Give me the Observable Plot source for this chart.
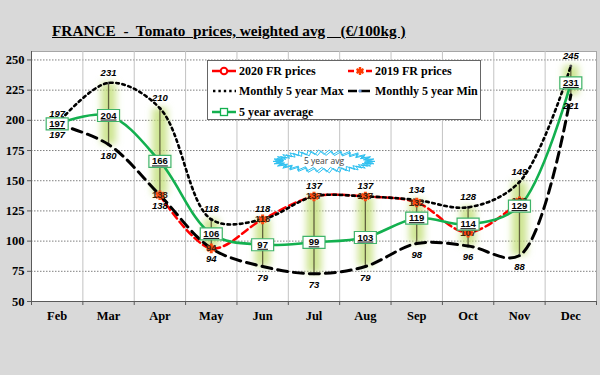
<!DOCTYPE html>
<html><head><meta charset="utf-8">
<script src="https://cdn.jsdelivr.net/npm/d3@7"></script>
<script src="https://cdn.jsdelivr.net/npm/@observablehq/plot@0.6"></script>
<style>
body{margin:0;background:#d9d9d9;}
#wrap{position:relative;width:600px;height:375px;overflow:hidden;background:#d9d9d9;}
#title{position:absolute;left:52px;top:22px;font:bold 15.3px "Liberation Serif",serif;text-decoration:underline;white-space:pre;color:#000;}
#legend{position:absolute;left:207px;top:60px;width:274px;height:60px;background:#fff;border:1px solid #666;box-sizing:border-box;font:bold 12px "Liberation Serif",serif;color:#000;}
.item{position:absolute;height:16px;display:flex;align-items:center;white-space:nowrap;}
.item svg{margin-right:2px;}
</style></head><body>
<div id="wrap"><div id="chart"></div><div id="title">FRANCE  -  Tomato  prices, weighted avg    (€/100kg )</div><div id="legend"></div></div>
<script>
const months = ["Feb","Mar","Apr","May","Jun","Jul","Aug","Sep","Oct","Nov","Dec"];
const max5 = [197,231,210,118,118,137,137,134,128,149,245];
const min5 = [197,180,138,94,79,73,79,98,96,88,221];
const avg5 = [197,204,166,106,97,99,103,119,114,129,231];
const fr2019 = [null,null,138,94,118,137,137,132,107,133,null];
const fr2020 = [null,null,null,null,null,null,null,null,null,null,null];
const yTicks = [50,75,100,125,150,175,200,225,250];
const seriesNames = ["2020 FR prices","2019 FR prices","Monthly 5 year Max","Monthly 5 year Min","5 year average"];
const noteText = "5 year avg";

const rows = months.map((m,i)=>({m, x:i+0.5, max:max5[i], min:min5[i], avg:avg5[i], fr19:fr2019[i], fr20:fr2020[i]}));
const r19 = rows.filter(d=>d.fr19!=null);
const r20 = rows.filter(d=>d.fr20!=null);
const spread = rows.filter(d=>d.max>d.min);

const burst = {draw(ctx){
  const n=30;
  for(let k=0;k<2;k++){
    const o=k*2.2;
    for(let i=0;i<=2*n;i++){
      const a=i*Math.PI/n+k*0.05;
      const outer=i%2===0;
      const rx=(outer?51:43)-o, ry=(outer?11.5:7)-o*0.45;
      const px=rx*Math.cos(a), py=ry*Math.sin(a);
      if(i===0) ctx.moveTo(px,py); else ctx.lineTo(px,py);
    }
    ctx.closePath();
  }
}};
const box = {draw(ctx){ ctx.rect(-11,-6,22,12); }};

const sans = "Liberation Sans, Arial, sans-serif";
const serif = "Liberation Serif, Times New Roman, serif";
const GLOW = "#c2df78";
const AVGTXT = "#010101";

const chart = Plot.plot({
  width:600, height:375,
  marginLeft:31, marginRight:4, marginTop:51, marginBottom:74,
  style:{background:"#d9d9d9", color:"#000", overflow:"visible"},
  x:{type:"linear", domain:[0,11], axis:null, label:null},
  y:{domain:[50,257], axis:null, label:null},
  marks:[
    Plot.frame({fill:"#fff", stroke:"#a6a6a6"}),
    Plot.ruleY(yTicks.slice(1), {stroke:"#7f7f7f", strokeDasharray:"1.5,1.5"}),
    Plot.ruleX(d3.range(1,11), {stroke:"#c3c3c3"}),
    Plot.ruleY([50], {stroke:"#595959"}),
    Plot.ruleX([0], {stroke:"#595959"}),
    Plot.axisY({ticks:yTicks, label:null, tickSize:4, tickPadding:3, fontFamily:serif, fontWeight:"bold", fontSize:12.5, stroke:"#595959"}),
    Plot.axisX({ticks:d3.range(0,12), label:null, tickSize:4, tickFormat:()=>"", stroke:"#595959"}),
    Plot.axisX({ticks:rows.map(d=>d.x), label:null, tickSize:0, tickPadding:10, tickFormat:(d)=>months[Math.floor(d)], fontFamily:serif, fontWeight:"bold", fontSize:12.5}),
    // glow behind high-low lines
    Plot.ruleX(spread, {x:"x", y1:"min", y2:"max", stroke:GLOW, strokeWidth:15, strokeOpacity:0.8}),
    Plot.ruleX(spread, {x:"x", y1:"min", y2:"max", stroke:"#62623e", strokeWidth:1.3}),
    Plot.dot(spread, {x:"x", y:"max", r:1.5, fill:"#555"}),
    Plot.dot(spread, {x:"x", y:"min", r:1.5, fill:"#6b7a8f"}),
    // series
    Plot.line(r20, {x:"x", y:"fr20", curve:"catmull-rom", stroke:"#ff0000", strokeWidth:2.5}),
    Plot.line(r19, {x:"x", y:"fr19", curve:"catmull-rom", stroke:"#ff0000", strokeWidth:2.5, strokeDasharray:"7,4"}),
    Plot.line(rows, {x:"x", y:"max", curve:"catmull-rom", stroke:"#000", strokeWidth:2.6, strokeDasharray:"2.6,3.6"}),
    Plot.line(rows, {x:"x", y:"min", curve:"catmull-rom", stroke:"#000", strokeWidth:3, strokeDasharray:"10,6"}),
    Plot.line(rows, {x:"x", y:"avg", curve:"catmull-rom", stroke:"#13b04f", strokeWidth:2.6}),
    // labels
    Plot.text(rows, {x:"x", y:"max", text:d=>String(d.max), dy:-10, fontFamily:sans, fontWeight:"bold", fontStyle:"italic", fontSize:9.5, fill:"#000"}),
    Plot.text(rows, {x:"x", y:"min", text:d=>String(d.min), dy:11, fontFamily:sans, fontWeight:"bold", fontStyle:"italic", fontSize:9.5, fill:"#000"}),
    Plot.dot(r19, {x:"x", y:"fr19", symbol:"asterisk", r:4.5, stroke:"#ff4a10", strokeWidth:3}),
    Plot.text(r19, {x:"x", y:"fr19", text:d=>String(d.fr19), fontFamily:sans, fontWeight:"bold", fontSize:9.5, fill:"#3a2410"}),
    Plot.dot(rows, {x:"x", y:"avg", symbol:box, fill:"#fff", stroke:"#3fb36a", strokeWidth:1.2}),
    Plot.text(rows, {x:"x", y:"avg", text:d=>String(d.avg), fontFamily:sans, fontWeight:"bold", fontSize:9.5, fill:AVGTXT}),
    // callout
    Plot.dot([{x:5.5, y:166}], {x:"x", y:"y", dx:10, symbol:burst, fill:"none", stroke:"#2ec0f0", strokeWidth:1}),
    Plot.text([{x:5.5, y:166}], {x:"x", y:"y", dx:10, text:()=>noteText, fontFamily:"Open Sans, sans-serif", fontSize:8.5, fill:"#404040"})
  ]
});
document.getElementById("chart").appendChild(chart);
// soft glow filter
const ns = "http://www.w3.org/2000/svg";
const defs = document.createElementNS(ns,"defs");
defs.innerHTML = '<filter id="glowblur" x="-50%" y="-20%" width="200%" height="140%" filterUnits="objectBoundingBox"><feGaussianBlur stdDeviation="3.5"/></filter>';
chart.insertBefore(defs, chart.firstChild);
chart.querySelectorAll('g[stroke="'+GLOW+'"]').forEach(g=>g.setAttribute("filter","url(#glowblur)"));
chart.querySelectorAll('g[fill="'+AVGTXT+'"] text').forEach(t=>t.setAttribute("text-decoration","underline"));

// legend
const sw = {
  "2020 FR prices": '<line x1="0" y1="6" x2="24" y2="6" stroke="#f00" stroke-width="2.5"/><circle cx="12" cy="6" r="3.3" fill="#fff" stroke="#f00" stroke-width="2"/>',
  "2019 FR prices": '<line x1="0" y1="6" x2="24" y2="6" stroke="#f00" stroke-width="2.5" stroke-dasharray="6,3"/><path d="M12,2V10M8.5,4L15.5,8M8.5,8L15.5,4" stroke="#ff3a00" stroke-width="2.4"/>',
  "Monthly 5 year Max": '<line x1="1" y1="6" x2="24" y2="6" stroke="#000" stroke-width="2.4" stroke-dasharray="2.4,3"/>',
  "Monthly 5 year Min": '<line x1="0" y1="6" x2="24" y2="6" stroke="#000" stroke-width="2.6" stroke-dasharray="9,4"/><path d="M12,4L14,6L12,8L10,6Z" fill="#6a8fc8"/>',
  "5 year average": '<line x1="0" y1="6" x2="24" y2="6" stroke="#13b04f" stroke-width="2.5"/><rect x="8.5" y="2.5" width="7" height="7" fill="#fff" stroke="#13b04f" stroke-width="1.3"/>'
};
const pos = [[4,2],[140,2],[4,22],[140,22],[4,43]];
const lg = document.getElementById("legend");
seriesNames.forEach((n,i)=>{
  const d=document.createElement("div");
  d.className="item"; d.style.left=pos[i][0]+"px"; d.style.top=pos[i][1]+"px";
  d.innerHTML='<svg width="25" height="12">'+sw[n]+'</svg><span>'+n+'</span>';
  lg.appendChild(d);
});
</script>
</body></html>
